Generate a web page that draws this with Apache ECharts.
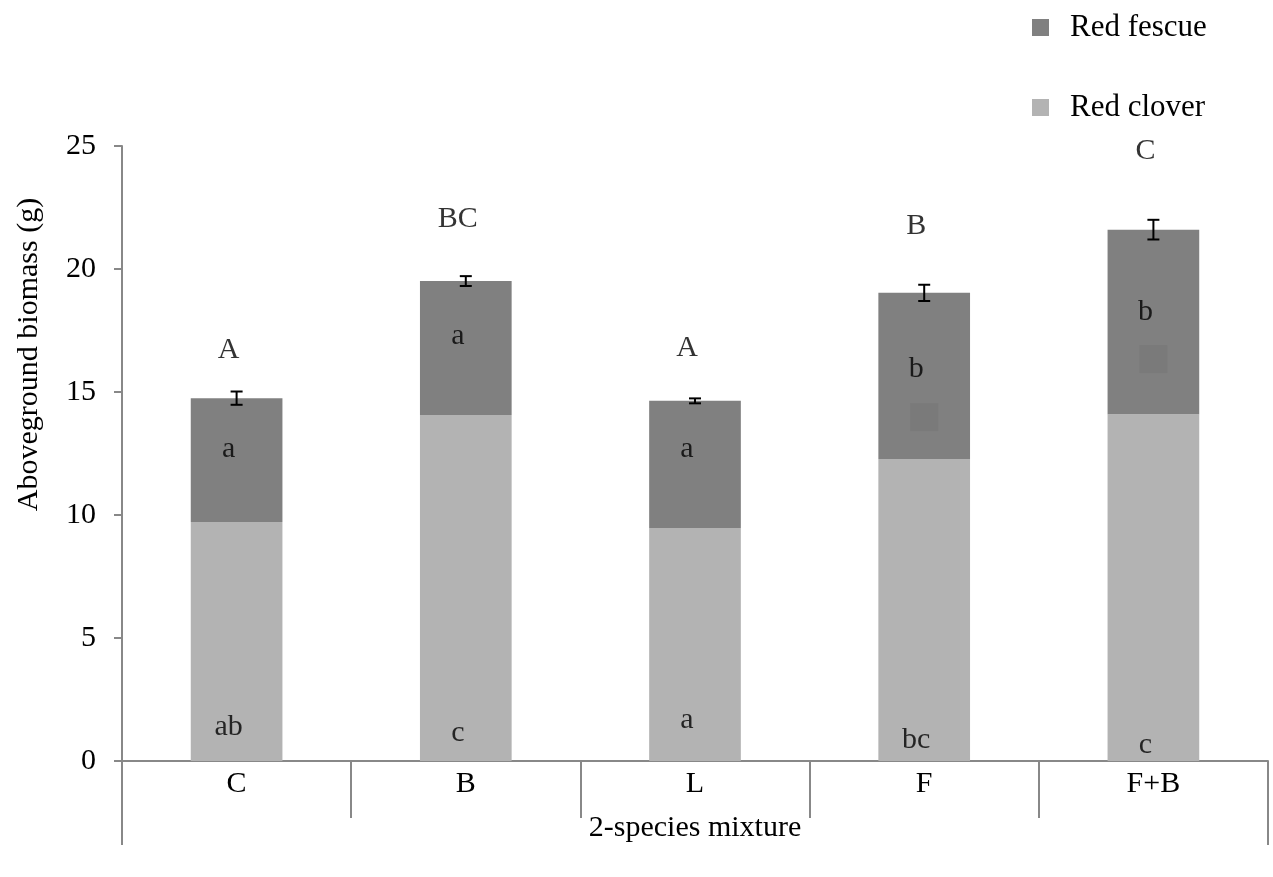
<!DOCTYPE html>
<html>
<head>
<meta charset="utf-8">
<script src="https://cdn.jsdelivr.net/npm/echarts@6/dist/echarts.min.js"></script>
<style>html,body{margin:0;padding:0;background:#fff;}#main{width:1273px;height:877px;}</style>
</head>
<body>
<div id="main"></div>
<script>
var categories = ['C', 'B', 'L', 'F', 'F+B'];
var groupLabel = ['2-species mixture'];
var redClover = [9.72, 14.06, 9.47, 12.28, 14.1];
var redFescueTotal = [14.75, 19.51, 14.64, 19.03, 21.6];
var errors = [0.27, 0.2, 0.1, 0.33, 0.4];
var topLetters = ['A', 'BC', 'A', 'B', 'C'];
var topLetterY = [16.7, 22.03, 16.79, 21.75, 24.78];
var fescueLetters = ['a', 'a', 'a', 'b', 'b'];
var fescueLetterY = [12.68, 17.28, 12.68, 15.93, 18.25];
var cloverLetters = ['ab', 'c', 'a', 'bc', 'c'];
var cloverLetterY = [1.38, 1.14, 1.67, 0.85, 0.65];
var squareCats = ['F', 'F+B'];
var squareY = [13.98, 16.34];

var redFescue = redFescueTotal.map(function (t, i) { return +(t - redClover[i]).toFixed(3); });
var FONT = 'Liberation Serif';
var FS = 30;

function letterSeries(labels, ys) {
  return {
    type: 'scatter', symbolSize: 1, silent: true, z: 10,
    itemStyle: { color: 'rgba(0,0,0,0)' },
    data: categories.map(function (c, i) { return { value: [c, ys[i]], name: labels[i] }; }),
    label: { show: true, position: 'inside', offset: [-8, 0], formatter: function (p) { return p.name; },
      color: '#000', fontFamily: FONT, fontSize: FS }
  };
}

var chart = echarts.init(document.getElementById('main'));
chart.setOption({
  animation: false,
  backgroundColor: '#fff',
  textStyle: { fontFamily: FONT },
  legend: {
    orient: 'vertical', left: 1027, top: 7, itemGap: 49, itemWidth: 17, itemHeight: 17,
    icon: 'rect', data: ['Red fescue', 'Red clover'],
    textStyle: { fontFamily: FONT, fontSize: 31, color: '#000', padding: [0, 0, 0, 16] }
  },
  grid: { left: 122, right: 5, top: 146, bottom: 116, containLabel: false, outerBoundsMode: 'none' },
  xAxis: [{
    type: 'category', data: categories, position: 'bottom',
    axisLine: { show: true, lineStyle: { color: '#888', width: 2 } },
    axisTick: { show: true, length: 57, interval: 0, lineStyle: { color: '#888', width: 2 } },
    axisLabel: { color: '#000', fontFamily: FONT, fontSize: FS, margin: 8 }
  }, {
    type: 'category', data: groupLabel, position: 'bottom', gridIndex: 0,
    axisLine: { show: false },
    axisTick: { show: true, length: 84, interval: 0, lineStyle: { color: '#888', width: 2 } },
    axisLabel: { color: '#000', fontFamily: FONT, fontSize: FS, margin: 52 }
  }],
  yAxis: {
    type: 'value', min: 0, max: 25, interval: 5,
    name: 'Aboveground biomass (g)', nameLocation: 'middle', nameGap: 78, nameRotate: 90,
    nameTextStyle: { fontFamily: FONT, fontSize: FS, color: '#000', padding: [0, 0, 0, 198] },
    axisLine: { show: true, lineStyle: { color: '#888', width: 2 } },
    axisTick: { show: true, length: 8, lineStyle: { color: '#888', width: 2 } },
    axisLabel: { color: '#000', fontFamily: FONT, fontSize: FS, margin: 26 },
    splitLine: { show: false }
  },
  series: [
    { name: 'Red clover', type: 'bar', stack: 'tot', barWidth: '40%', data: redClover,
      itemStyle: { color: '#b3b3b3' } },
    { name: 'Red fescue', type: 'bar', stack: 'tot', barWidth: '40%', data: redFescue,
      itemStyle: { color: '#808080' } },
    { type: 'scatter', silent: true, z: 5, symbol: 'rect', symbolSize: 28,
      itemStyle: { color: '#787878' },
      data: squareCats.map(function (c, i) { return [c, squareY[i]]; }) },
    { type: 'custom', silent: true, z: 6,
      data: categories.map(function (c, i) { return [i, redFescueTotal[i], errors[i]]; }),
      renderItem: function (params, api) {
        var x = api.value(0), v = api.value(1), e = api.value(2);
        var hi = api.coord([x, v + e]), lo = api.coord([x, v - e]);
        var w = 6, st = { stroke: '#000', lineWidth: 2 };
        return { type: 'group', children: [
          { type: 'line', shape: { x1: hi[0], y1: hi[1], x2: lo[0], y2: lo[1] }, style: st },
          { type: 'line', shape: { x1: hi[0] - w, y1: hi[1], x2: hi[0] + w, y2: hi[1] }, style: st },
          { type: 'line', shape: { x1: lo[0] - w, y1: lo[1], x2: lo[0] + w, y2: lo[1] }, style: st }
        ] };
      }
    },
    letterSeries(topLetters, topLetterY),
    letterSeries(fescueLetters, fescueLetterY),
    letterSeries(cloverLetters, cloverLetterY)
  ]
});
</script>
</body>
</html>
